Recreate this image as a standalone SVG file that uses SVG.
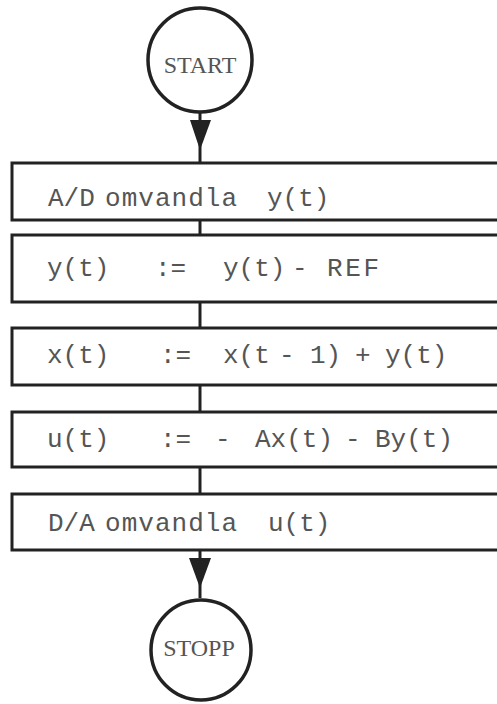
<svg xmlns="http://www.w3.org/2000/svg" width="497" height="704" viewBox="0 0 497 704">
<style>
.box{fill:#fff;stroke:#222;stroke-width:3}
.term{fill:#fff;stroke:#222;stroke-width:3.5}
.conn{stroke:#222;stroke-width:3;fill:none}
.head{fill:#222}
.t{font-family:"Liberation Mono",monospace;font-size:26px;fill:#555}
.tt{font-family:"Liberation Serif",serif;font-size:24px;fill:#555}
</style>
<rect width="497" height="704" fill="#fff"/>
<g id="connectors">
<line class="conn" x1="200" y1="112" x2="200" y2="163"/>
<path class="head" d="M190,120 L211,120 L200,150 z"/>
<line class="conn" x1="200" y1="214" x2="200" y2="240"/>
<line class="conn" x1="200" y1="302" x2="200" y2="328"/>
<line class="conn" x1="200" y1="385" x2="200" y2="412"/>
<line class="conn" x1="200" y1="467" x2="200" y2="494"/>
<line class="conn" x1="200" y1="550" x2="200" y2="598"/>
<path class="head" d="M189,558 L211,558 L200,588 z"/>
</g>
<g id="start">
<circle class="term" cx="200" cy="60" r="52"/>
<text class="tt" x="200" y="73" text-anchor="middle">START</text>
</g>
<g id="box1">
<rect class="box" x="12" y="163" width="500" height="57"/>
<text class="t" y="206"><tspan x="48">A/D</tspan><tspan x="105" textLength="132" lengthAdjust="spacing">omvandla</tspan><tspan x="267">y(t)</tspan></text>
</g>
<g id="box2">
<rect class="box" x="12" y="235" width="500" height="67"/>
<text class="t" y="276"><tspan x="47">y(t)</tspan><tspan x="155">:=</tspan><tspan x="223">y(t)</tspan><tspan x="292">-</tspan><tspan x="327" textLength="52" lengthAdjust="spacing">REF</tspan></text>
</g>
<g id="box3">
<rect class="box" x="12" y="328" width="500" height="57"/>
<text class="t" y="363"><tspan x="47">x(t)</tspan><tspan x="160">:=</tspan><tspan x="223">x(t</tspan><tspan x="279">-</tspan><tspan x="310">1)</tspan><tspan x="355">+</tspan><tspan x="385">y(t)</tspan></text>
</g>
<g id="box4">
<rect class="box" x="12" y="412" width="500" height="55"/>
<text class="t" y="447"><tspan x="47">u(t)</tspan><tspan x="160">:=</tspan><tspan x="215">-</tspan><tspan x="255">Ax(t)</tspan><tspan x="345">-</tspan><tspan x="375">By(t)</tspan></text>
</g>
<g id="box5">
<rect class="box" x="12" y="494" width="500" height="56"/>
<text class="t" y="531"><tspan x="48">D/A</tspan><tspan x="105" textLength="132" lengthAdjust="spacing">omvandla</tspan><tspan x="268">u(t)</tspan></text>
</g>
<g id="stopp">
<circle class="term" cx="201" cy="650" r="50"/>
<text class="tt" x="199" y="656" text-anchor="middle">STOPP</text>
</g>
</svg>
